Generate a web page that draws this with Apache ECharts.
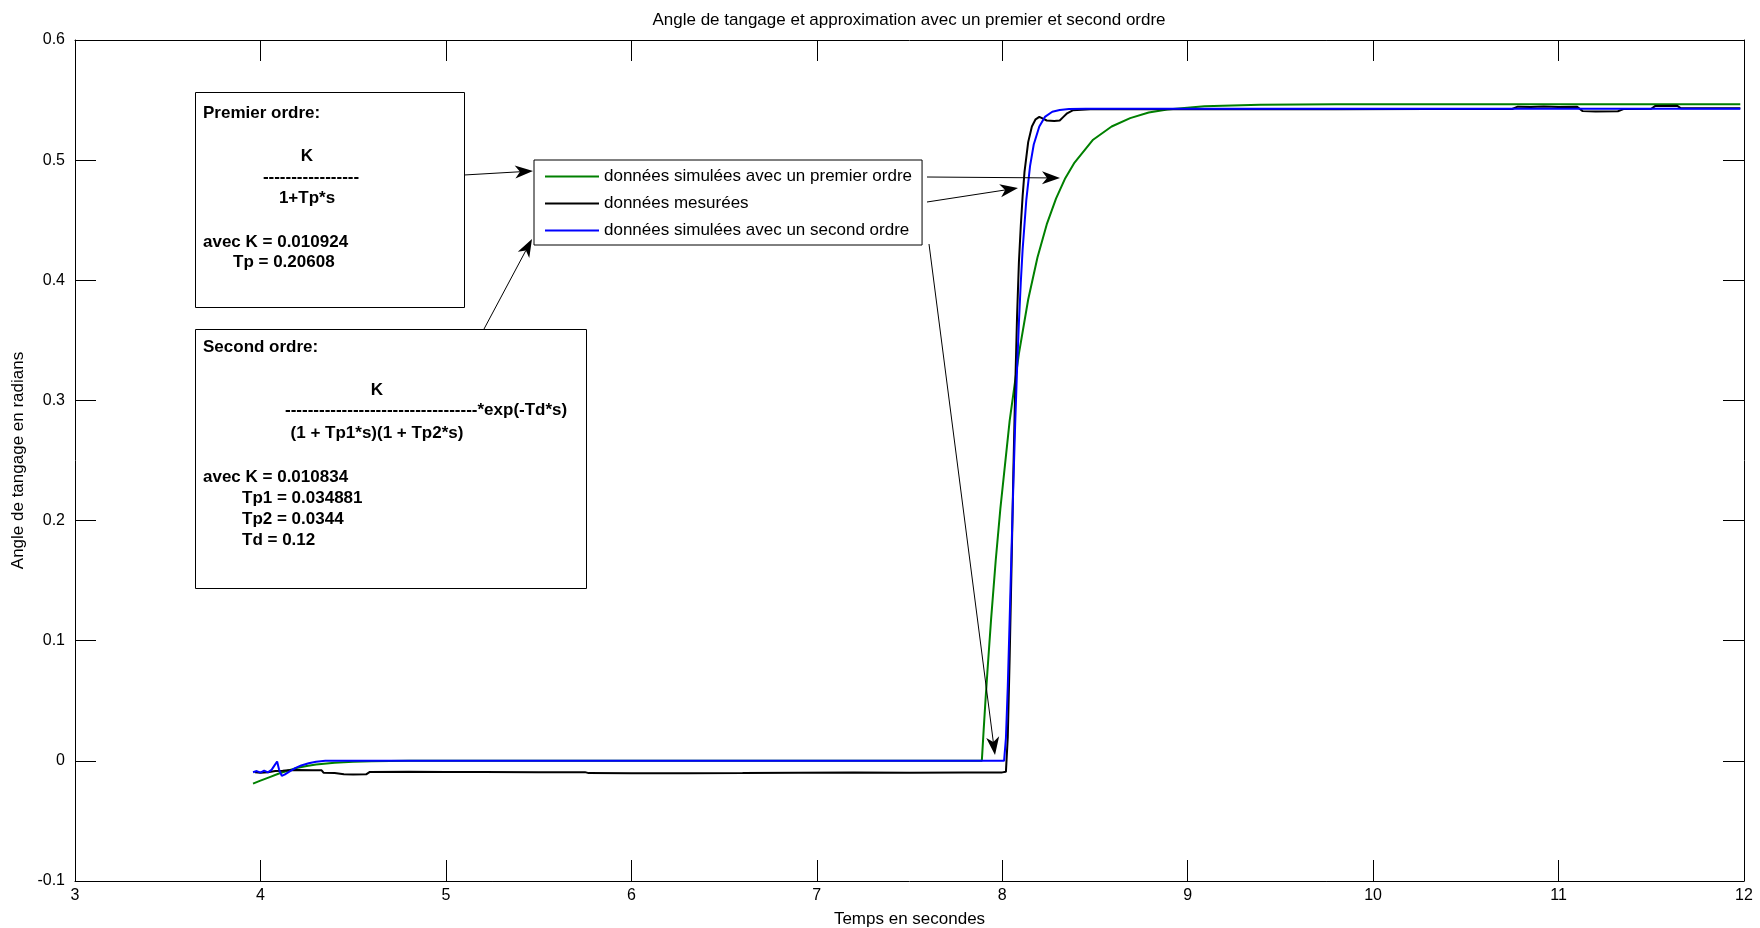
<!DOCTYPE html>
<html>
<head>
<meta charset="utf-8">
<script src="https://cdn.jsdelivr.net/npm/echarts/dist/echarts.min.js"></script>
<style>
html,body{margin:0;padding:0;background:#fff;}
#chart{width:1760px;height:928px;}
</style>
</head>
<body>
<div id="chart"></div>
<script>
// ---- Data ----
const seriesNames = [
  'données simulées avec un premier ordre',
  'données mesurées',
  'données simulées avec un second ordre'
];
const firstOrder = [[3.96,-0.019],[4.00,-0.0165],[4.05,-0.0135],[4.10,-0.0105],[4.15,-0.008],[4.20,-0.0058],[4.25,-0.0042],[4.30,-0.003],[4.40,-0.0016],[4.50,-0.0008],[4.60,-0.0003],[4.80,0],[7.89,0],[7.90,0.026],[7.91,0.051],[7.92,0.074],[7.94,0.118],[7.965,0.167],[7.99,0.210],[8.04,0.283],[8.09,0.339],[8.14,0.384],[8.19,0.419],[8.24,0.4465],[8.29,0.468],[8.34,0.485],[8.39,0.498],[8.49,0.517],[8.59,0.528],[8.69,0.535],[8.79,0.5396],[8.89,0.5422],[9.09,0.5449],[9.39,0.5461],[9.8,0.5465],[11.98,0.5465]];
const measured = [[3.97,-0.0095],[4.00,-0.0098],[4.04,-0.0094],[4.08,-0.0085],[4.12,-0.0082],[4.15,-0.0078],[4.20,-0.0077],[4.28,-0.0078],[4.33,-0.0079],[4.34,-0.0098],[4.40,-0.0102],[4.45,-0.0112],[4.50,-0.0113],[4.57,-0.0112],[4.59,-0.0092],[4.80,-0.0091],[5.00,-0.0093],[5.20,-0.0092],[5.50,-0.0094],[5.75,-0.0094],[5.77,-0.0102],[6.00,-0.0104],[6.30,-0.0103],[6.60,-0.0101],[6.90,-0.0098],[7.20,-0.0097],[7.50,-0.0098],[7.80,-0.0097],[8.00,-0.0096],[8.02,-0.009],[8.03,0.02],[8.04,0.085],[8.05,0.16],[8.06,0.24],[8.07,0.31],[8.08,0.37],[8.09,0.415],[8.10,0.445],[8.11,0.47],[8.12,0.49],[8.14,0.515],[8.16,0.528],[8.18,0.534],[8.20,0.536],[8.22,0.5345],[8.24,0.533],[8.28,0.5325],[8.31,0.533],[8.33,0.536],[8.35,0.539],[8.38,0.5415],[8.50,0.5425],[8.90,0.5423],[9.30,0.5426],[9.80,0.5424],[10.30,0.5425],[10.75,0.5426],[10.78,0.5445],[10.85,0.5442],[10.92,0.5446],[11.00,0.5443],[11.10,0.5444],[11.13,0.5408],[11.20,0.5404],[11.32,0.5407],[11.35,0.5425],[11.50,0.5428],[11.52,0.5450],[11.64,0.5452],[11.66,0.5432],[11.98,0.5432]];
const secondOrder = [[3.96,-0.0095],[3.98,-0.0085],[4.00,-0.0098],[4.02,-0.0082],[4.04,-0.0096],[4.06,-0.0075],[4.075,-0.004],[4.09,-0.0005],[4.10,-0.007],[4.115,-0.0125],[4.13,-0.0115],[4.16,-0.0085],[4.19,-0.0058],[4.22,-0.0038],[4.26,-0.002],[4.30,-0.0008],[4.35,0],[8.01,0],[8.02,0.019],[8.03,0.062],[8.04,0.117],[8.05,0.1745],[8.06,0.230],[8.07,0.281],[8.08,0.326],[8.09,0.365],[8.10,0.398],[8.11,0.4255],[8.13,0.467],[8.15,0.495],[8.17,0.513],[8.20,0.528],[8.23,0.536],[8.27,0.5403],[8.31,0.5418],[8.36,0.5426],[8.45,0.5428],[11.98,0.5428]];

const titleText = 'Angle de tangage et approximation avec un premier et second ordre';
const xName = 'Temps en secondes';
const yName = 'Angle de tangage en radians';

// ---- Styles ----
const FONT = '"Liberation Sans", Arial, sans-serif';
const colors = ['#008000', '#000000', '#0000ff'];

const chart = echarts.init(document.getElementById('chart'), null, {renderer: 'canvas'});

function arrow(x1, y1, x2, y2) {
  const dx = x2 - x1, dy = y2 - y1;
  const L = Math.sqrt(dx * dx + dy * dy);
  const ux = dx / L, uy = dy / L;
  const px = -uy, py = ux;
  const hl = 18, hw = 6.5, notch = 5;
  const bx = x2 - ux * hl, by = y2 - uy * hl;
  const nx = x2 - ux * (hl - notch), ny = y2 - uy * (hl - notch);
  return [
    {type: 'line', z: 100, silent: true, shape: {x1: x1, y1: y1, x2: nx, y2: ny}, style: {stroke: '#000', lineWidth: 1}},
    {type: 'polygon', z: 100, silent: true, shape: {points: [[x2, y2], [bx + px * hw, by + py * hw], [nx, ny], [bx - px * hw, by - py * hw]]}, style: {fill: '#000'}}
  ];
}

function txt(text, x, y, align) {
  return {type: 'text', z: 101, silent: true, style: {
    text: text, x: x, y: y, align: align || 'left', verticalAlign: 'middle',
    font: 'bold 17px ' + FONT, fill: '#000'
  }};
}

const graphics = [
  {type: 'text', z: 101, silent: true, style: {text: titleText, x: 909, y: 20, align: 'center', verticalAlign: 'middle', font: '17px ' + FONT, fill: '#000'}},
  // Box 1
  {type: 'rect', z: 99, silent: true, shape: {x: 195.5, y: 92.5, width: 269, height: 215}, style: {fill: '#fff', stroke: '#000', lineWidth: 1}},
  txt('Premier ordre:', 203, 113),
  txt('K', 307, 156, 'center'),
  txt('-----------------', 311, 177, 'center'),
  txt('1+Tp*s', 307, 198, 'center'),
  txt('avec K = 0.010924', 203, 242),
  txt('Tp = 0.20608', 233, 262),
  // Box 2
  {type: 'rect', z: 99, silent: true, shape: {x: 195.5, y: 329.5, width: 391, height: 259}, style: {fill: '#fff', stroke: '#000', lineWidth: 1}},
  txt('Second ordre:', 203, 347),
  txt('K', 377, 390, 'center'),
  txt('----------------------------------*exp(-Td*s)', 285, 410),
  txt('(1 + Tp1*s)(1 + Tp2*s)', 377, 433, 'center'),
  txt('avec K = 0.010834', 203, 477),
  txt('Tp1 = 0.034881', 242, 498),
  txt('Tp2 = 0.0344', 242, 519),
  txt('Td = 0.12', 242, 540)
]
  .concat(arrow(464, 175, 533, 171))
  .concat(arrow(484, 329, 532, 239))
  .concat(arrow(927, 177, 1060, 178))
  .concat(arrow(927, 202, 1018, 188))
  .concat(arrow(929, 244, 995, 755));

const tickStyle = {inside: true, length: 21, lineStyle: {color: '#000', width: 1}};
const lineAxis = {onZero: false, lineStyle: {color: '#000', width: 1}};
const labelStyle = {color: '#000', fontSize: 16, fontFamily: FONT};
const nameStyle = {color: '#000', fontSize: 17, fontFamily: FONT};

const option = {
  animation: false,
  backgroundColor: '#fff',
  grid: {left: 75, top: 40, right: 16, bottom: 47, containLabel: false, outerBoundsMode: 'none'},
  xAxis: [
    {type: 'value', min: 3, max: 12, interval: 1, position: 'bottom',
     axisLine: lineAxis, axisTick: tickStyle, splitLine: {show: false},
     axisLabel: Object.assign({margin: 7}, labelStyle),
     name: xName, nameLocation: 'middle', nameGap: 30, nameTextStyle: nameStyle},
    {type: 'value', min: 3, max: 12, interval: 1, position: 'top',
     axisLine: lineAxis, axisTick: tickStyle, splitLine: {show: false},
     axisLabel: {show: false}}
  ],
  yAxis: [
    {type: 'value', min: -0.1, max: 0.6, interval: 0.1, position: 'left',
     axisLine: lineAxis, axisTick: tickStyle, splitLine: {show: false},
     axisLabel: Object.assign({margin: 10}, labelStyle),
     name: yName, nameLocation: 'middle', nameGap: 42, nameTextStyle: nameStyle},
    {type: 'value', min: -0.1, max: 0.6, interval: 0.1, position: 'right',
     axisLine: lineAxis, axisTick: tickStyle, splitLine: {show: false},
     axisLabel: {show: false}}
  ],
  legend: {
    orient: 'vertical', left: 534, top: 160,
    data: seriesNames,
    itemWidth: 54, itemHeight: 16, itemGap: 10,
    padding: [8, 10, 6, 10],
    borderColor: '#000', borderWidth: 1, backgroundColor: '#fff',
    itemStyle: {opacity: 0},
    lineStyle: {width: 2},
    textStyle: {color: '#000', fontSize: 17, fontFamily: FONT, lineHeight: 16},
    selectedMode: false
  },
  series: [
    {name: seriesNames[0], type: 'line', data: firstOrder, symbol: 'none', color: colors[0], lineStyle: {width: 2, color: colors[0]}, z: 2},
    {name: seriesNames[1], type: 'line', data: measured, symbol: 'none', color: colors[1], lineStyle: {width: 2, color: colors[1]}, z: 3},
    {name: seriesNames[2], type: 'line', data: secondOrder, symbol: 'none', color: colors[2], lineStyle: {width: 2, color: colors[2]}, z: 4}
  ],
  graphic: graphics
};
chart.setOption(option);
</script>
</body>
</html>
